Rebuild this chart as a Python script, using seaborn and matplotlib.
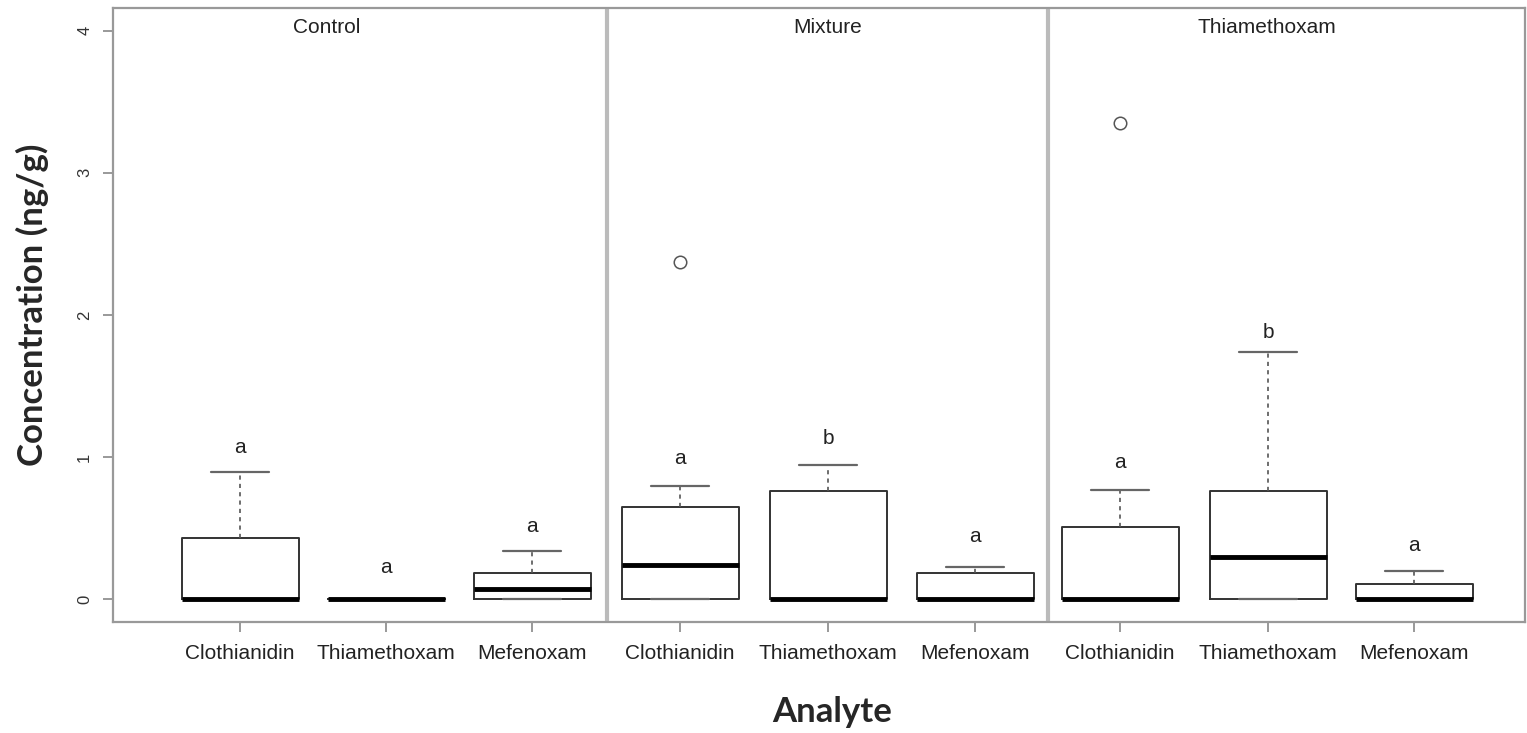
import matplotlib.pyplot as plt
import seaborn as sns

# data (ng/g)
treatments = ["Control", "Mixture", "Thiamethoxam"]
analytes = ["Clothianidin", "Thiamethoxam", "Mefenoxam"]
q1 = [0.0, 0.0, 0.0, 0.0, 0.0, 0.0, 0.0, 0.0, 0.0]
medians = [0.0, 0.0, 0.073, 0.24, 0.0, 0.0, 0.0, 0.30, 0.0]
q3 = [0.43, 0.0, 0.185, 0.65, 0.76, 0.185, 0.51, 0.76, 0.106]
whisker_low = [0.0, 0.0, 0.0, 0.0, 0.0, 0.0, 0.0, 0.0, 0.0]
whisker_high = [0.894, 0.0, 0.34, 0.80, 0.946, 0.227, 0.77, 1.74, 0.20]
outliers = [[], [], [], [2.37], [], [], [3.35], [], []]
letters = ["a", "a", "a", "a", "b", "a", "a", "b", "a"]
letter_y = [1.07, 0.22, 0.51, 0.99, 1.13, 0.44, 0.96, 1.88, 0.38]

# layout (x in pixel-like units to mimic the uneven composite panels)
positions = [240, 386, 532, 680, 828, 975, 1120, 1268, 1414]
panel_edges = [607, 1048]
title_x = [327, 828, 1267]

sns.set_style("white")
plt.rcParams["font.family"] = ["Liberation Sans", "DejaVu Sans"]

W, H = 1527, 733
fig = plt.figure(figsize=(W / 100, H / 100), dpi=100)
ax = fig.add_axes([113 / W, 1 - 622 / H, (1525 - 113) / W, (622 - 8) / H])

stats = []
for i in range(len(positions)):
    stats.append(dict(med=medians[i], q1=q1[i], q3=q3[i],
                      whislo=whisker_low[i], whishi=whisker_high[i],
                      fliers=outliers[i], label=analytes[i % 3]))

ax.bxp(stats, positions=positions, widths=117, capwidths=58,
       boxprops=dict(color="#333333", linewidth=1.4),
       medianprops=dict(color="black", linewidth=3.5),
       whiskerprops=dict(color="#555555", linestyle=(0, (2.5, 2.5)), linewidth=1.2),
       capprops=dict(color="#666666", linewidth=1.6),
       flierprops=dict(marker="o", markerfacecolor="none", markeredgecolor="#555555",
                       markersize=9, markeredgewidth=1.1))

for x in panel_edges:
    ax.axvline(x, color="#bbbbbb", linewidth=3)

for x, name in zip(title_x, treatments):
    ax.text(x, 4.02, name, ha="center", va="center", fontsize=15, color="#222222")

for x, y, lab in zip(positions, letter_y, letters):
    ax.text(x, y, lab, ha="center", va="center", fontsize=15, color="#222222")

ax.set_xlim(113, 1525)
ax.set_ylim(-0.16, 4.16)
ax.set_xticks(positions, labels=analytes * 3, fontsize=15, color="#222222")
ax.set_yticks([0, 1, 2, 3, 4], labels=["0", "1", "2", "3", "4"],
              fontsize=12, rotation=90, va="center", color="#333333")
ax.tick_params(axis="both", direction="out", length=7, width=1.2, color="#888888",
               bottom=True, left=True)
ax.tick_params(axis="x", pad=9)
ax.tick_params(axis="y", pad=8)

for sp in ax.spines.values():
    sp.set_color("#999999")
    sp.set_linewidth(1.6)

fig.text(32 / W, 1 - 305 / H, "Concentration (ng/g)", rotation=90, ha="center", va="center",
         fontsize=25, fontweight="bold", family=["Lato", "DejaVu Sans"])
fig.text(832 / W, 1 - 712 / H, "Analyte", ha="center", va="center",
         fontsize=25, fontweight="bold", family=["Lato", "DejaVu Sans"])

fig.savefig("out.png", dpi=100)
